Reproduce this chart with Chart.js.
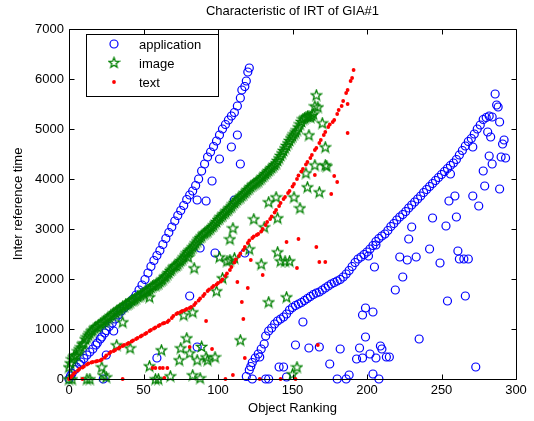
<!DOCTYPE html>
<html><head><meta charset="utf-8">
<script src="https://cdn.jsdelivr.net/npm/chart.js@4.4.1/dist/chart.umd.min.js"></script>
<style>html,body{margin:0;padding:0;background:#fff;}#wrap{width:534px;height:421px;}</style>
</head><body><div id="wrap"><canvas id="c" width="534" height="421"></canvas></div>
<script>
// ---- data (Object Ranking, Inter reference time) ----
const seriesNames = ['application', 'image', 'text'];
const xTicks = [0, 50, 100, 150, 200, 250, 300];
const yTicks = [0, 1000, 2000, 3000, 4000, 5000, 6000, 7000];
const xTickLabels = ['0', '50', '100', '150', '200', '250', '300'];
const yTickLabels = ['0', '1000', '2000', '3000', '4000', '5000', '6000', '7000'];

const appMain1 = [[0,0],[1,60],[2,110],[4,190],[5,240],[7,300],[8,340],[10,410],[12,480],[14,540],[16,600],[18,680],[19,720],[21,800],[22,840],[24,920],[25,970],[27,1050],[29,1120],[31,1200],[33,1280],[35,1360],[37,1420],[39,1480],[41,1540],[43,1600],[45,1680],[47,1780],[49,1880],[51,1990],[53,2120],[55,2250],[57,2370],[59,2470],[61,2570],[63,2690],[65,2810],[67,2930],[69,3040],[71,3160],[73,3270],[75,3370],[77,3470],[79,3590],[81,3680],[83,3760],[85,3870],[87,4000],[89,4160],[91,4300],[93,4440],[95,4540],[97,4650],[99,4760],[101,4880],[103,5000],[105,5090],[107,5180],[109,5260],[111,5330],[113,5460],[115,5620],[116,5780],[118,5850],[119,5960],[120,6140],[121,6220]];
const appMain2 = [[122,250],[123,330],[125,420],[127,500],[129,600],[131,700],[132,860],[134,960],[136,1020],[138,1100],[140,1160],[142,1200],[144,1240],[146,1300],[148,1380],[150,1430],[152,1470],[154,1500],[156,1530],[158,1570],[160,1610],[162,1650],[164,1690],[166,1720],[168,1740],[170,1780],[172,1820],[174,1860],[176,1900],[178,1930],[180,1960],[182,1990],[184,2040],[186,2100],[188,2170],[190,2250],[192,2330],[194,2400],[196,2440],[198,2490],[200,2540],[202,2600],[204,2670],[206,2750],[208,2810],[210,2860],[212,2900],[214,2970],[216,3050],[218,3110],[220,3180],[222,3240],[224,3290],[226,3350],[228,3420],[230,3480],[232,3540],[234,3600],[236,3660],[238,3730],[240,3790],[242,3850],[244,3910],[246,3970],[248,4030],[250,4090],[252,4150],[254,4210],[256,4270],[258,4320],[260,4390],[262,4480],[264,4570],[266,4660],[268,4750],[270,4810],[272,4900],[274,5000],[276,5080],[278,5190],[280,5230],[282,5260],[284,5240],[286,5700],[287,5480],[288,5440]];
const appOther = [[23,0],[25,480],[30,960],[59,420],[81,1660],[86,640],[88,2620],[98,2520],[86,3580],[92,3560],[96,3960],[101,4400],[109,4640],[113,4880],[115,4300],[111,3580],[118,2520],[119,50],[121,180],[123,0],[128,440],[132,0],[134,0],[141,240],[144,240],[146,40],[152,680],[157,1140],[161,620],[168,640],[175,300],[180,0],[182,600],[186,0],[188,80],[193,400],[195,620],[197,420],[197,1280],[199,1420],[199,840],[204,1340],[202,500],[206,420],[209,660],[210,600],[213,440],[215,440],[204,100],[208,0],[206,2680],[201,2460],[205,2240],[222,2440],[227,2380],[233,2440],[224,2040],[219,1780],[242,2600],[249,2320],[261,2560],[262,2400],[265,2400],[268,2400],[254,1560],[266,1660],[235,800],[273,240],[253,3060],[230,3040],[228,2800],[244,3220],[260,3240],[255,3560],[259,3660],[271,3660],[275,3460],[279,3860],[278,4160],[282,4460],[284,4300],[289,3800],[271,4640],[281,4940],[283,4840],[289,5140],[291,4700],[292,4780],[293,4420],[290,4440],[256,4100]];

const imgMain = [[0,0],[0,240],[1,320],[2,400],[3,440],[5,480],[6,560],[8,640],[10,720],[11,800],[13,880],[14,920],[16,980],[17,1020],[19,1050],[20,1080],[22,1120],[24,1160],[25,1180],[27,1240],[29,1290],[31,1330],[33,1380],[35,1420],[37,1460],[39,1500],[41,1540],[43,1580],[45,1620],[47,1660],[49,1700],[51,1740],[53,1780],[55,1830],[57,1870],[59,1900],[61,1950],[63,2000],[65,2060],[67,2130],[69,2200],[71,2260],[73,2300],[75,2370],[77,2440],[79,2520],[81,2580],[83,2640],[85,2720],[87,2800],[89,2860],[91,2920],[93,2960],[95,3020],[97,3080],[99,3150],[101,3220],[103,3280],[105,3340],[107,3400],[109,3460],[111,3530],[113,3590],[115,3640],[117,3700],[119,3760],[121,3820],[123,3880],[125,3920],[127,3960],[129,4020],[131,4080],[133,4140],[135,4200],[137,4260],[139,4320],[141,4420],[143,4520],[145,4620],[147,4720],[149,4820],[151,4900],[153,4980],[155,5100],[157,5200],[159,5240],[161,5260],[163,5270],[165,5460],[166,5680],[167,5440]];
const imgBand = [[4,470],[7,600],[9,700],[12,840],[15,960],[18,1040],[21,1110],[23,1150],[26,1220],[28,1270],[30,1320],[32,1360],[34,1400],[36,1450],[38,1490],[40,1520],[42,1570],[44,1600],[46,1650],[48,1680],[50,1720],[52,1760],[54,1800],[56,1860],[58,1880],[60,1920],[62,1980],[64,2040],[66,2100],[68,2170],[70,2240],[72,2270],[74,2340],[76,2400],[78,2480],[80,2550],[82,2600],[84,2680],[86,2760],[88,2830],[90,2900],[92,2940],[94,2990],[96,3050],[98,3120],[100,3190],[102,3250],[104,3310],[106,3370],[108,3430],[110,3500],[112,3560],[114,3620],[116,3670],[118,3730],[120,3790],[122,3850],[124,3900],[126,3940],[128,3990],[130,4050],[132,4110],[134,4170],[136,4230],[138,4290],[140,4370],[142,4470],[144,4570],[146,4670],[148,4770],[150,4860],[152,4940],[154,5040],[156,5150],[158,5220],[160,5250],[162,5240],[164,5300]];
const imgOther = [[2,0],[12,0],[14,0],[22,240],[23,80],[25,40],[32,680],[36,1140],[41,620],[54,1640],[54,260],[58,0],[60,0],[62,580],[68,60],[77,1280],[83,1340],[79,820],[75,620],[74,380],[81,520],[86,380],[89,650],[93,380],[98,440],[92,440],[83,80],[88,20],[99,1760],[80,2440],[84,2220],[101,2440],[108,2380],[106,2360],[111,2420],[108,2800],[110,3020],[103,2020],[124,3200],[131,3040],[134,3540],[139,3640],[140,3220],[121,2600],[129,2300],[140,2540],[142,2360],[145,2360],[148,2360],[134,1540],[146,1640],[115,780],[153,240],[150,100],[151,3640],[155,3420],[160,3840],[159,4120],[165,4280],[172,4280],[173,4260],[168,3740],[172,4640],[161,4880],[170,5120]];

const txtMain = [[0,0],[1,30],[2,60],[3,100],[4,130],[6,170],[7,200],[9,230],[10,250],[12,290],[13,310],[15,330],[16,340],[18,350],[19,360],[21,370],[22,390],[24,430],[25,470],[27,510],[28,540],[30,560],[31,580],[33,610],[34,630],[36,660],[37,680],[39,700],[40,720],[42,750],[43,770],[45,800],[46,820],[48,850],[49,870],[51,900],[52,920],[54,960],[55,980],[57,1010],[58,1030],[60,1060],[61,1080],[63,1110],[64,1120],[66,1140],[67,1170],[69,1220],[70,1260],[72,1300],[73,1320],[75,1340],[76,1360],[78,1380],[79,1400],[81,1420],[82,1440],[84,1480],[85,1520],[87,1570],[88,1610],[90,1660],[91,1700],[93,1760],[94,1790],[96,1830],[97,1860],[99,1890],[100,1920],[102,1950],[103,1990],[105,2060],[106,2110],[108,2180],[109,2240],[111,2330],[112,2390],[114,2460],[115,2510],[117,2580],[118,2640],[120,2720],[121,2770],[123,2820],[124,2850],[126,2880],[127,2900],[129,2950],[130,3000],[132,3080],[133,3140],[135,3200],[136,3250],[138,3330],[139,3380],[141,3460],[142,3520],[144,3600],[145,3640],[147,3720],[148,3760],[150,3850],[151,3900],[153,4000],[154,4070],[156,4150],[157,4200],[159,4290],[160,4340],[162,4420],[163,4480],[165,4580],[166,4620],[168,4720],[169,4780],[171,4880],[172,4940],[174,5040],[175,5090],[177,5140],[178,5180],[180,5300],[181,5380],[183,5460],[184,5560],[186,5720],[187,5780],[189,5960],[190,6020],[191,6180]];
const txtOther = [[9,0],[36,0],[64,20],[56,220],[58,220],[61,220],[63,220],[66,220],[81,640],[96,600],[92,1160],[105,0],[110,80],[118,420],[116,1540],[117,1200],[120,1820],[113,1940],[122,2380],[130,2080],[128,0],[142,0],[146,2740],[154,2800],[166,2640],[168,2340],[172,2340],[153,2220],[167,680],[152,0],[165,4080],[187,5500],[187,4920],[178,4060],[180,3940],[176,3700]];

// ---- drawing ----
const FONT = "'Liberation Sans', Arial, Helvetica, sans-serif";
Chart.defaults.font.family = FONT;
Chart.defaults.font.size = 13;
Chart.defaults.color = '#000';

const BLUE = '#0000ff', GREEN = '#008000', RED = '#ff0000';

function makeStar() {
  const c = document.createElement('canvas');
  c.width = 13; c.height = 13;
  const g = c.getContext('2d');
  g.strokeStyle = GREEN; g.lineWidth = 1.3;
  g.beginPath();
  for (let i = 0; i < 10; i++) {
    const r = i % 2 ? 2.3 : 5.4;
    const a = -Math.PI / 2 + i * Math.PI / 5;
    const px = 6.5 + r * Math.cos(a), py = 7 + r * Math.sin(a);
    if (i) g.lineTo(px, py); else g.moveTo(px, py);
  }
  g.closePath(); g.stroke();
  return c;
}
const starImg = makeStar();
const toPts = arr => arr.map(p => ({x: p[0], y: p[1]}));

const dsApp = {label: seriesNames[0], data: toPts(appMain1.concat(appMain2, appOther)),
  pointStyle: 'circle', pointRadius: 4, borderColor: BLUE, backgroundColor: 'rgba(0,0,0,0)', pointBorderWidth: 1.2, showLine: false, clip: false, order: 2};
const dsImg = {label: seriesNames[1], data: toPts(imgMain.concat(imgBand, imgOther)),
  pointStyle: starImg, pointRadius: 6, borderColor: GREEN, backgroundColor: GREEN, showLine: false, clip: false, order: 1};
const dsTxt = {label: seriesNames[2], data: toPts(txtMain.concat(txtOther)),
  pointStyle: 'circle', pointRadius: 1.9, borderWidth: 0, pointBorderWidth: 0, borderColor: RED, backgroundColor: RED, showLine: false, clip: false, order: 0};

const framePlugin = {
  id: 'frame',
  afterDatasetsDraw(chart) {
    const {ctx, chartArea: a, scales} = chart;
    const xs = scales.x, ys = scales.y;
    const L = Math.round(a.left) + 0.5, R = Math.round(a.right) + 0.5, T = Math.round(a.top) + 0.5, B = Math.round(a.bottom) + 0.5;
    ctx.save();
    ctx.strokeStyle = '#000'; ctx.lineWidth = 1;
    ctx.beginPath();
    ctx.rect(L, T, R - L, B - T);
    const tl = 5;
    xTicks.forEach(v => {
      const p = Math.round(xs.getPixelForValue(v)) + 0.5;
      ctx.moveTo(p, B); ctx.lineTo(p, B - tl);
      ctx.moveTo(p, T); ctx.lineTo(p, T + tl);
    });
    yTicks.forEach(v => {
      const p = Math.round(ys.getPixelForValue(v)) + 0.5;
      ctx.moveTo(L, p); ctx.lineTo(L + tl, p);
      ctx.moveTo(R, p); ctx.lineTo(R - tl, p);
    });
    ctx.stroke();

    // legend box
    const bx = 86.5, by = 34.5, bw = 132, bh = 62;
    ctx.fillStyle = '#fff';
    ctx.fillRect(bx, by, bw, bh);
    ctx.strokeRect(bx, by, bw, bh);
    const rows = [44, 63, 82];
    const mx = 114, tx = 139;
    ctx.font = '13px ' + FONT;
    ctx.textBaseline = 'middle';
    ctx.textAlign = 'left';
    ctx.fillStyle = '#000';
    seriesNames.forEach((n, i) => ctx.fillText(n, tx, rows[i] + 1));
    ctx.strokeStyle = BLUE; ctx.lineWidth = 1.2;
    ctx.beginPath(); ctx.arc(mx, rows[0], 4, 0, Math.PI * 2); ctx.stroke();
    ctx.drawImage(starImg, mx - 6.5, rows[1] - 7);
    ctx.fillStyle = RED;
    ctx.beginPath(); ctx.arc(mx, rows[2], 1.9, 0, Math.PI * 2); ctx.fill();
    ctx.restore();
  }
};

new Chart(document.getElementById('c'), {
  type: 'scatter',
  data: {datasets: [dsApp, dsImg, dsTxt]},
  plugins: [framePlugin],
  options: {
    responsive: false,
    animation: false,
    events: [],
    devicePixelRatio: 1,
    layout: {padding: {left: 0, right: 18, top: 0, bottom: 0}},
    plugins: {
      legend: {display: false},
      tooltip: {enabled: false},
      title: {display: true, text: 'Characteristic of IRT of GIA#1', fullSize: false,
        font: {size: 13, weight: 'normal'}, color: '#000', padding: {top: 4, bottom: 9.4}}
    },
    scales: {
      x: {type: 'linear', position: 'bottom', min: 0, max: 300,
        afterBuildTicks: s => { s.ticks = xTicks.map(v => ({value: v})); },
        afterFit: s => { s.height = 42; },
        grid: {display: false, drawTicks: false}, border: {display: false},
        ticks: {padding: 4, color: '#000', font: {size: 13}, maxRotation: 0, autoSkip: false,
          callback: (v) => xTickLabels[xTicks.indexOf(v)]},
        title: {display: true, text: 'Object Ranking', color: '#000', font: {size: 13}, padding: {top: 0, bottom: 5}}
      },
      y: {type: 'linear', position: 'left', min: 0, max: 7000,
        afterBuildTicks: s => { s.ticks = yTicks.map(v => ({value: v})); },
        afterFit: s => { s.width = 69; },
        grid: {display: false, drawTicks: false}, border: {display: false},
        ticks: {padding: 5, color: '#000', font: {size: 13}, autoSkip: false,
          callback: (v) => yTickLabels[yTicks.indexOf(v)]},
        title: {display: true, text: 'Inter reference time', color: '#000', font: {size: 13}, padding: {top: 11, bottom: 0}}
      }
    }
  }
});
</script>
</body></html>
